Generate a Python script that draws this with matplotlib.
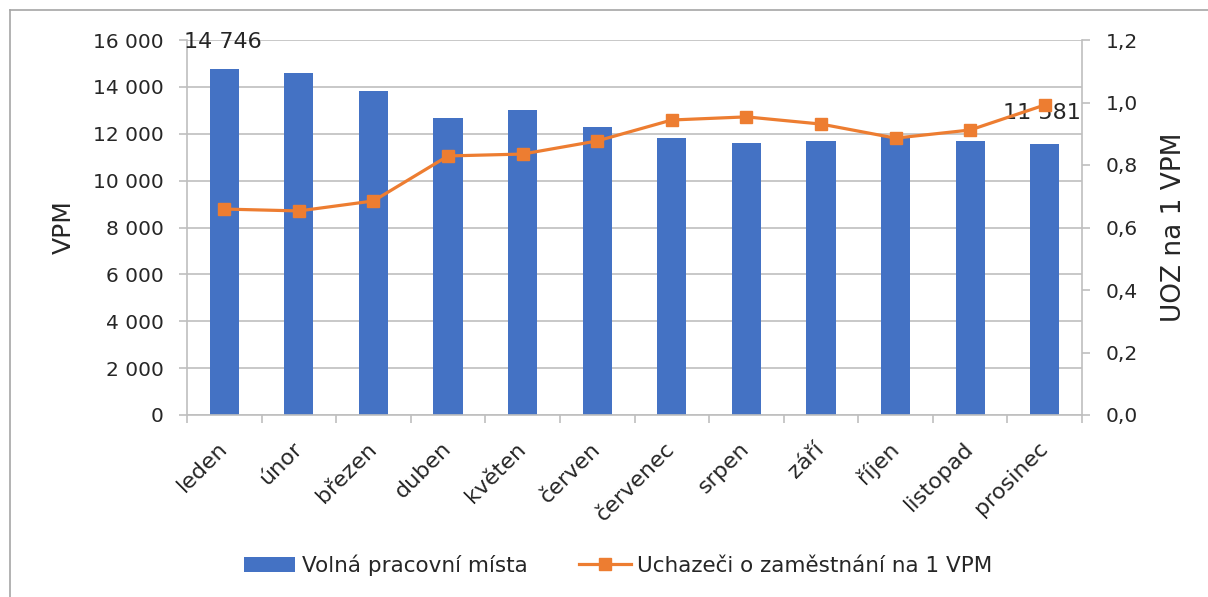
import matplotlib
matplotlib.use('Agg')
import matplotlib.pyplot as plt
from matplotlib.lines import Line2D
from matplotlib.patches import Patch

# ── DATA ────────────────────────────────────────────
mesice = ["leden", "únor", "březen", "duben", "květen", "červen",
          "červenec", "srpen", "září", "říjen", "listopad", "prosinec"]
vpm = [14746, 14600, 13820, 12670, 13010, 12290,
       11820, 11620, 11690, 11850, 11690, 11581]
uoz_na_vpm = [0.659, 0.653, 0.685, 0.829, 0.835, 0.877,
              0.944, 0.954, 0.931, 0.886, 0.912, 0.992]
left_ticks = [0, 2000, 4000, 6000, 8000, 10000, 12000, 14000, 16000]
right_ticks = [0.0, 0.2, 0.4, 0.6, 0.8, 1.0, 1.2]

BLUE = "#4472C4"
ORANGE = "#ED7D31"
GRID = "#BFBFBF"
TXT = "#262626"

plt.rcParams['font.family'] = ['DejaVu Sans']

W, H = 1208, 597
fig = plt.figure(figsize=(W / 100, H / 100), dpi=100)
ax = fig.add_axes([187 / W, 1 - 415 / H, (1082 - 187) / W, (415 - 40) / H])

x = list(range(len(mesice)))
ax.bar(x, vpm, width=0.39, color=BLUE, zorder=2)
ax.set_xlim(-0.5, len(mesice) - 0.5)
ax.set_ylim(0, 16000)
ax.set_yticks(left_ticks)
ax.set_yticklabels([f"{v:,}".replace(",", " ") for v in left_ticks],
                   fontsize=14.5, color=TXT)
ax.yaxis.grid(True, color=GRID, linewidth=1.2, zorder=0)
ax.set_axisbelow(True)
ax.set_ylabel("VPM", fontsize=18, color=TXT, labelpad=12)

# tick marks on category boundaries, labels in the middle
ax.set_xticks([i - 0.5 for i in range(len(mesice) + 1)])
ax.set_xticklabels([])
ax.set_xticks(x, minor=True)
ax.set_xticklabels(mesice, minor=True, rotation=45, ha="right", va="center",
                   rotation_mode="anchor", fontsize=16, color=TXT)
ax.tick_params(axis="x", which="minor", length=0, pad=22)
ax.tick_params(axis="x", which="major", length=6, color=GRID, width=1.2)
ax.tick_params(axis="y", length=6, color=GRID, width=1.2, pad=11)

for s in ["top", "right"]:
    ax.spines[s].set_visible(False)
for s in ["left", "bottom"]:
    ax.spines[s].set_color(GRID)
    ax.spines[s].set_linewidth(1.2)

# popisky dat jen u prvniho a posledniho sloupce
ax.annotate(f"{vpm[0]:,}".replace(",", " "), (x[0], vpm[0]),
            xytext=(-1, 20), textcoords="offset points",
            ha="center", va="center", fontsize=16, color=TXT, zorder=5)
ax.annotate(f"{vpm[-1]:,}".replace(",", " "), (x[-1], vpm[-1]),
            xytext=(-2, 22), textcoords="offset points",
            ha="center", va="center", fontsize=16, color=TXT, zorder=5)

ax2 = ax.twinx()
ax2.plot(x, uoz_na_vpm, color=ORANGE, linewidth=2.3, marker="s",
         markersize=9, zorder=3)
ax2.set_ylim(0, 1.2)
ax2.set_yticks(right_ticks)
ax2.set_yticklabels([f"{v:.1f}".replace(".", ",") for v in right_ticks],
                    fontsize=14.5, color=TXT)
ax2.tick_params(axis="y", length=6, color=GRID, width=1.2, pad=11)
for s in ["top", "left", "bottom"]:
    ax2.spines[s].set_visible(False)
ax2.spines["right"].set_color(GRID)
ax2.spines["right"].set_linewidth(1.2)
ax2.set_ylabel("UOZ na 1 VPM", fontsize=19, color=TXT, labelpad=17)

handles = [Patch(facecolor=BLUE),
           Line2D([0], [0], color=ORANGE, linewidth=2.3, marker="s", markersize=9)]
fig.legend(handles, ["Volná pracovní místa", "Uchazeči o zaměstnání na 1 VPM"],
           loc="center", bbox_to_anchor=(618 / W, 1 - 565 / H),
           ncol=2, frameon=False, fontsize=15.5, handlelength=2.4,
           columnspacing=2.4, handletextpad=0.3, labelcolor=TXT)

# ramecek grafu (viditelny jen levy a horni okraj)
fig.add_artist(Line2D([10 / W, 10 / W], [0, 1 - 10 / H],
                      transform=fig.transFigure, color="#A6A6A6", linewidth=1.2))
fig.add_artist(Line2D([10 / W, 1], [1 - 10 / H, 1 - 10 / H],
                      transform=fig.transFigure, color="#A6A6A6", linewidth=1.2))

plt.savefig("out.png", dpi=100)
plt.close()
